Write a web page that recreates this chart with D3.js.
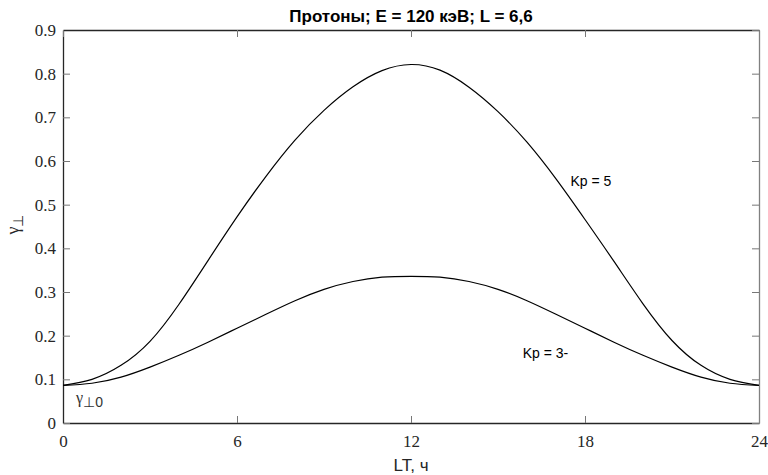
<!DOCTYPE html>
<html>
<head>
<meta charset="utf-8">
<script src="https://cdn.jsdelivr.net/npm/d3@7"></script>
<style>
  body { margin: 0; background: #fff; }
  #chart-data svg { display: block; }
</style>
</head>
<body>
<div id="chart-data"></div>
<script>
// local time, hours
var lt = [0, 1, 2, 3, 4, 5, 6, 7, 8, 9, 10, 11, 12, 13, 14, 15, 16, 17, 18, 19, 20, 21, 22, 23, 24]
// gamma_perp for Kp = 5
var kp5 = [0.086, 0.100, 0.132, 0.187, 0.272, 0.372, 0.472, 0.565, 0.648, 0.716, 0.770, 0.807, 0.821,
           0.808, 0.769, 0.713, 0.643, 0.559, 0.466, 0.370, 0.273, 0.189, 0.132, 0.100, 0.086]
// gamma_perp for Kp = 3-
var kp3 = [0.086, 0.091, 0.105, 0.128, 0.155, 0.185, 0.217, 0.249, 0.280, 0.306, 0.324, 0.334, 0.336,
           0.334, 0.324, 0.306, 0.280, 0.249, 0.217, 0.185, 0.155, 0.128, 0.105, 0.091, 0.086]
var xTicks = [0, 6, 12, 18, 24]
var yTicks = [0, 0.1, 0.2, 0.3, 0.4, 0.5, 0.6, 0.7, 0.8, 0.9]
var title = "Протоны; E = 120 кэВ; L = 6,6"

var serif = "'Liberation Serif', 'Times New Roman', serif"
var sans = "'Liberation Sans', Arial, sans-serif"

var margin = {top: 30, right: 9, bottom: 52, left: 63},
    width = 768 - margin.left - margin.right,
    height = 475 - margin.top - margin.bottom;

var svg = d3.select("#chart-data")
    .append("svg")
    .attr("width", 768)
    .attr("height", 475)
    .append("g")
    .attr("transform", "translate(" + margin.left + "," + margin.top + ")");

var x = d3.scaleLinear().domain([0, 24]).range([0, width])
var y = d3.scaleLinear().domain([0, 0.9]).range([height, 0])

// axes (MATLAB style: ticks inward, box on)
var tickLen = 7
svg.append("g")
    .attr("transform", "translate(0," + height + ")")
    .call(d3.axisBottom(x).tickValues(xTicks).tickSizeInner(-tickLen).tickSizeOuter(0).tickPadding(12))
svg.append("g")
    .call(d3.axisLeft(y).tickValues(yTicks).tickSizeInner(-tickLen).tickSizeOuter(0).tickPadding(7)
      .tickFormat(function(d) { return d === 0 ? "0" : d3.format(".1f")(d) }))
svg.append("g")
    .call(d3.axisTop(x).tickValues(xTicks).tickSizeInner(-tickLen).tickSizeOuter(0).tickFormat(""))
var right = svg.append("g")
    .attr("transform", "translate(" + width + ",0)")
    .call(d3.axisRight(y).tickValues(yTicks).tickSizeInner(-tickLen).tickSizeOuter(0).tickFormat(""))

svg.selectAll(".domain").attr("stroke", "#262626").attr("stroke-width", 1.3)
right.select(".domain").attr("stroke", "#808080")
svg.selectAll(".tick line").attr("stroke", "#777").attr("stroke-width", 1)
svg.selectAll(".tick text")
    .attr("fill", "#262626")
    .style("font-family", serif)
    .style("font-size", "17px")

// curves
var line = d3.line()
    .x(function(d) { return x(d[0]) })
    .y(function(d) { return y(d[1]) })
    .curve(d3.curveNatural)

;[kp5, kp3].forEach(function(s) {
  svg.append("path")
    .datum(lt.map(function(t, i) { return [t, s[i]] }))
    .attr("fill", "none")
    .attr("stroke", "#000")
    .attr("stroke-width", 1.2)
    .attr("d", line)
})

// annotations
svg.append("text")
    .attr("x", x(17.5)).attr("y", y(0.542))
    .style("font-family", sans).style("font-size", "14px")
    .text("Kp = 5")
svg.append("text")
    .attr("x", x(15.85)).attr("y", y(0.15))
    .style("font-family", sans).style("font-size", "14px")
    .text("Kp = 3-")

var g0 = svg.append("text")
    .attr("x", x(0.45)).attr("y", y(0.045))
    .attr("fill", "#333")
    .style("font-family", serif).style("font-size", "16px")
g0.append("tspan").text("γ")
g0.append("tspan").attr("dy", 4).style("font-family", sans).style("font-size", "14px").text("⊥0")

// title
svg.append("text")
    .attr("x", width / 2).attr("y", -8)
    .attr("text-anchor", "middle")
    .style("font-family", sans).style("font-size", "17px").style("font-weight", "bold")
    .text(title)

// x label
svg.append("text")
    .attr("x", width / 2).attr("y", height + 48)
    .attr("text-anchor", "middle")
    .attr("fill", "#262626")
    .style("font-family", sans).style("font-size", "17px")
    .text("LT, ч")

// y label
var yl = svg.append("text")
    .attr("transform", "translate(" + (-44) + "," + (height / 2 - 2) + ") rotate(-90)")
    .attr("text-anchor", "middle")
    .attr("fill", "#262626")
    .style("font-family", serif).style("font-size", "18px")
yl.append("tspan").text("γ")
yl.append("tspan").attr("dy", 4).style("font-family", sans).style("font-size", "14px").text("⊥")
</script>
</body>
</html>
